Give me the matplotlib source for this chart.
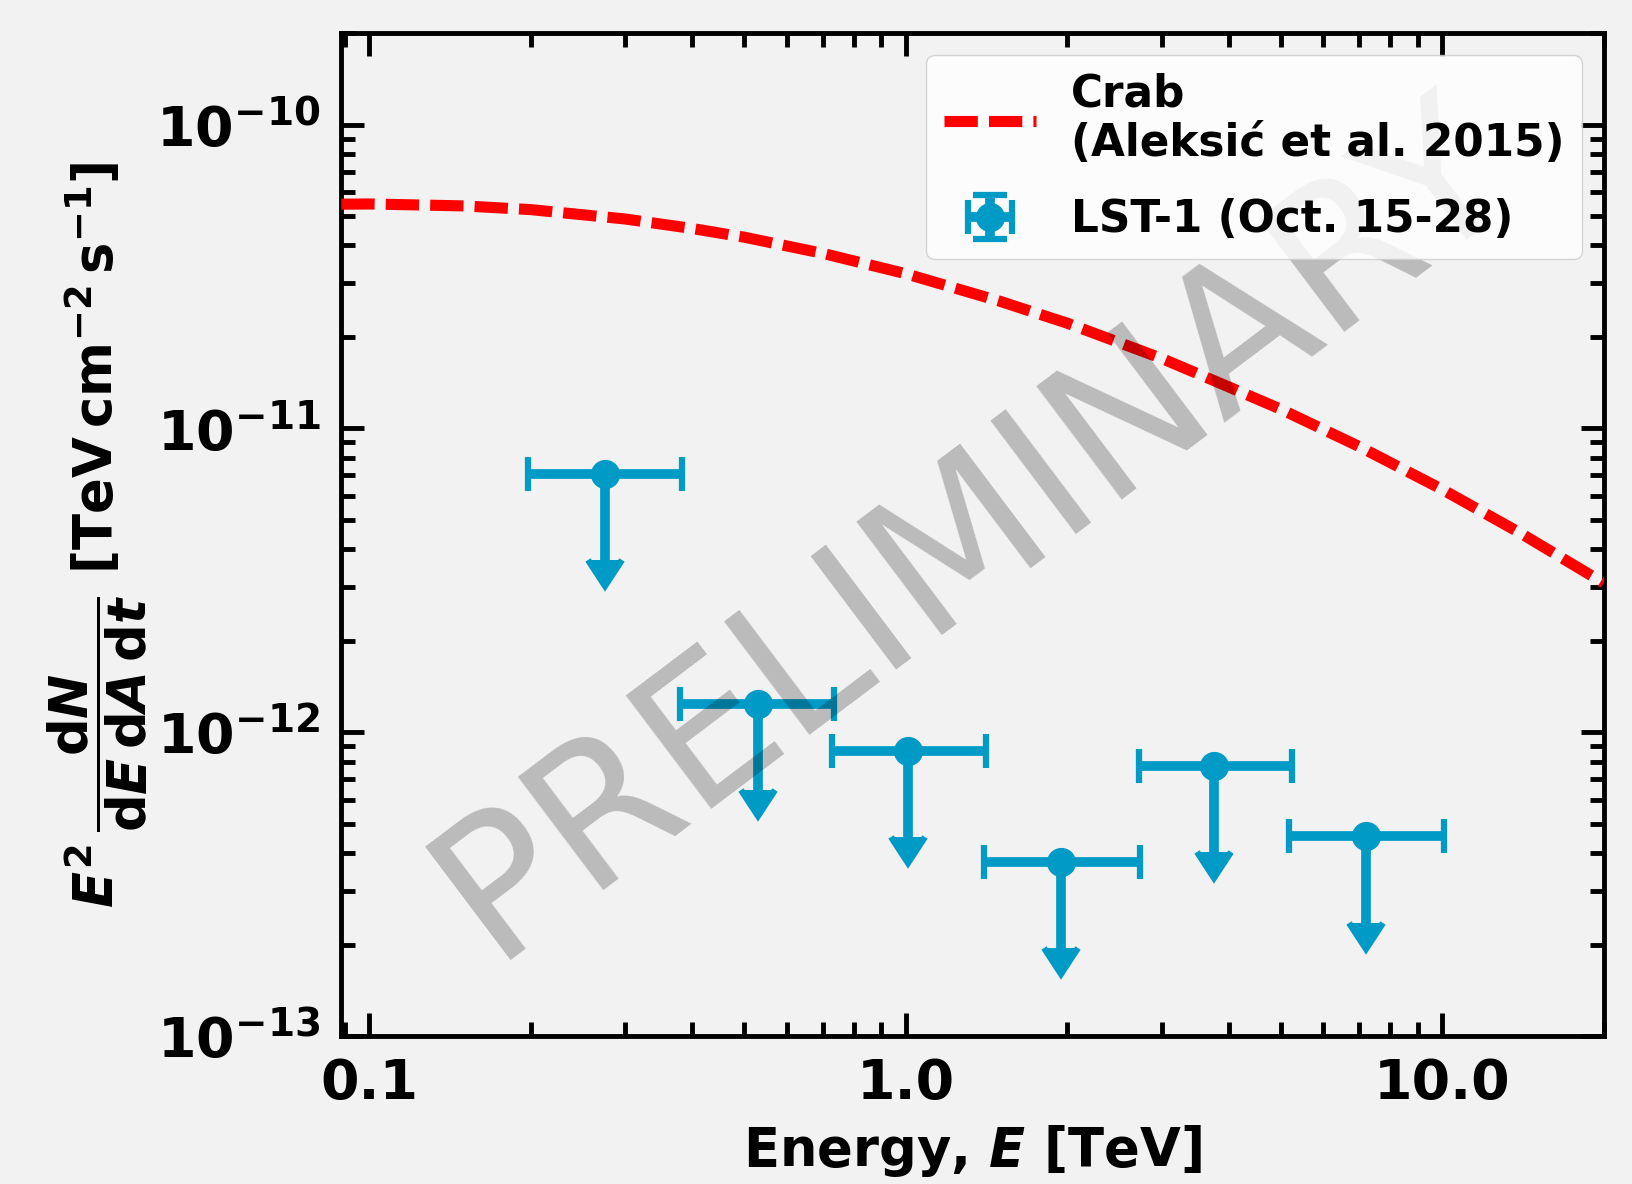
import numpy as np
import matplotlib
matplotlib.use("Agg")
import matplotlib.pyplot as plt
from matplotlib.ticker import LogLocator, NullFormatter, FixedLocator, FixedFormatter

# Crab reference spectrum, E in TeV, E^2 dN/dE in TeV cm^-2 s^-1
crab_e = [0.0887, 0.1, 0.15, 0.2, 0.3, 0.4, 0.5, 0.7, 1.0, 1.5, 2.0, 3.0, 4.0, 5.0, 7.0, 10.0, 14.0, 20.0]
crab_f = [5.47e-11, 5.48e-11, 5.40e-11, 5.25e-11, 4.89e-11, 4.55e-11, 4.26e-11, 3.77e-11, 3.23e-11,
          2.62e-11, 2.22e-11, 1.70e-11, 1.37e-11, 1.157e-11, 8.72e-12, 6.30e-12, 4.52e-12, 3.10e-12]

# LST-1 upper limits
lst_e = [0.275, 0.531, 1.008, 1.95, 3.75, 7.22]
lst_elo = [0.198, 0.380, 0.730, 1.40, 2.72, 5.18]
lst_ehi = [0.383, 0.735, 1.41, 2.73, 5.24, 10.1]
lst_ul = [7.1e-12, 1.24e-12, 8.67e-13, 3.75e-13, 7.76e-13, 4.54e-13]

xticks = [0.1, 1.0, 10.0]
xtick_labels = ["0.1", "1.0", "10.0"]

bg = "#f2f2f2"
blue = "#009ac7"

plt.rcParams["font.family"] = ["DejaVu Sans"]
plt.rcParams["font.weight"] = "bold"
plt.rcParams["axes.labelweight"] = "bold"
plt.rcParams["mathtext.fontset"] = "custom"
plt.rcParams["mathtext.rm"] = "DejaVu Sans:bold"
plt.rcParams["mathtext.bf"] = "DejaVu Sans:bold"
plt.rcParams["mathtext.it"] = "DejaVu Sans:italic:bold"

fig = plt.figure(figsize=(16.33, 11.84), dpi=100, facecolor=bg)
ax = fig.add_axes([0.209, 0.125, 0.773, 0.847], facecolor=bg)

ax.plot(crab_e, crab_f, color="red", lw=8, dashes=(3.0, 1.0),
        label="Crab\n(Aleksi\u0107 et al. 2015)", zorder=3)

e = np.array(lst_e)
ul = np.array(lst_ul)
xerr = [e - np.array(lst_elo), np.array(lst_ehi) - e]
yerr = 0.48 * ul
ax.errorbar(e, ul, xerr=xerr, yerr=yerr, uplims=True, fmt="o", color=blue,
            ms=20, elinewidth=7, capsize=12.5, capthick=4.5,
            label="LST-1 (Oct. 15-28)", zorder=2)

ax.set_xscale("log")
ax.set_yscale("log")
ax.set_xlim(0.0887, 20)
ax.set_ylim(1e-13, 2e-10)

ax.xaxis.set_major_locator(FixedLocator(xticks))
ax.xaxis.set_major_formatter(FixedFormatter(xtick_labels))
ax.xaxis.set_minor_locator(LogLocator(base=10, subs=np.arange(2, 10)))
ax.xaxis.set_minor_formatter(NullFormatter())
ax.yaxis.set_minor_locator(LogLocator(base=10, subs=np.arange(2, 10), numticks=20))
ax.yaxis.set_minor_formatter(NullFormatter())

ax.tick_params(which="both", direction="in", top=True, right=True, labelsize=40, pad=15)
ax.tick_params(which="major", length=16.5, width=3.5)
ax.tick_params(which="minor", length=10, width=3.5)
for s in ax.spines.values():
    s.set_linewidth(3.5)

ax.set_xlabel(r"Energy, $E$ [TeV]", fontsize=38, labelpad=9)
ax.set_ylabel(r"$E^2\,\dfrac{\mathrm{d}N}{\mathrm{d}E\,\mathrm{d}A\,\mathrm{d}t}$ [TeV$\,$cm$^{-2}\,$s$^{-1}$]",
              fontsize=38, labelpad=4)

ax.text(0.5, 0.505, "PRELIMINARY", transform=ax.transAxes, rotation=37,
        ha="center", va="center", fontsize=140, fontweight="normal",
        color="black", alpha=0.23, zorder=4)

leg = ax.legend(loc="upper right", fontsize=31.5, framealpha=0.8, handlelength=2.1,
                labelspacing=0.75)
leg.set_zorder(6)

fig.savefig("out.png", dpi=100, facecolor=bg)
